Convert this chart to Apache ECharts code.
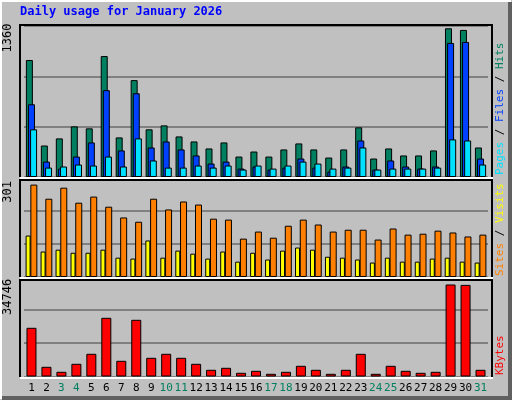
<!DOCTYPE html>
<html><head><meta charset="utf-8">
<script src="https://cdn.jsdelivr.net/npm/echarts@6/dist/echarts.min.js"></script>
<style>html,body{margin:0;padding:0;background:#c0c0c0}#c{width:512px;height:400px}</style>
</head><body><div id="c"></div>
<script>
const days = Array.from({length:31},(_,i)=>String(i+1));
const weekend = ['3','4','10','11','17','18','24','25','31'];
const hits  = [1070,288,353,463,445,1106,362,886,436,472,371,325,261,316,187,233,187,252,307,252,178,252,454,169,261,197,197,243,1360,1345,270];
const files = [665,141,77,187,316,794,243,766,270,325,252,197,123,141,77,96,68,86,169,86,50,96,334,68,151,96,77,96,1226,1235,169];
const pages = [436,86,96,114,105,187,96,353,151,86,86,105,86,105,68,105,77,105,141,123,77,86,270,68,77,77,77,86,344,334,114];
const visits= [301,255,291,242,262,229,194,180,255,220,246,236,190,187,125,148,128,167,187,171,148,154,154,122,158,138,141,151,145,132,138];
const sites = [135,83,89,79,79,89,63,60,119,63,86,76,60,83,50,79,57,86,96,89,66,63,57,47,63,50,50,60,63,50,47];
const kbytes= [18393,3663,1775,4796,8573,22170,5930,21414,7062,8573,7062,4796,2530,3286,1397,2153,1020,1775,4041,2530,1020,2530,8573,1020,4041,2153,1397,1775,34746,34600,2530];
const maxLabels = ['1360','301','34746'];
const title = 'Daily usage for January 2026';

const mono = 'DejaVu Sans Mono';
const grids = [
  {left:24, right:24, top:25, height:152},
  {left:24, right:24, top:180, height:97},
  {left:24, right:24, top:280, height:96.5}
];
const yMax = [1390, 316, 36445], yInt = [460, 108.5, 12580];
const xAxis = grids.map((g,i)=>({type:'category', gridIndex:i, data:days,
  axisLine:{show:false}, axisTick:{show:false},
  axisLabel:{show:i===2, interval:0, margin:6, fontFamily:mono, fontSize:11,
    color:(v)=>weekend.includes(v)?'#008060':'#000'}}));
const yAxis = grids.map((g,i)=>({type:'value', gridIndex:i, min:0, max:yMax[i], interval:yInt[i],
  axisLabel:{show:false}, axisLine:{show:false}, axisTick:{show:false},
  splitLine:{show:true, lineStyle:{color:'#808080', width:2}}}));
const bs = (name,data,color,gi,w,extra)=>Object.assign({type:'bar', name, data, xAxisIndex:gi, yAxisIndex:gi,
  barWidth:w, itemStyle:{color, borderColor:'#000', borderWidth:1}, animation:false, silent:true}, extra||{});
const series = [
  bs('Hits',hits,'#008060',0,7,{barGap:'-70%'}),
  bs('Files',files,'#0040ff',0,7,{barGap:'-70%'}),
  bs('Pages',pages,'#00e0ff',0,7,{barGap:'-70%'}),
  bs('Sites',sites,'#ffff00',1,5,{barGap:'-5%'}),
  bs('Visits',visits,'#ff8000',1,7,{barGap:'-5%'}),
  bs('KBytes',kbytes,'#ff0000',2,10)
];
const frames = [[25,177],[180,277],[280,377]];
const graphic = [
  {type:'rect', shape:{x:0,y:0,width:512,height:400}, style:{fill:'#c0c0c0'}, z:-10},
  {type:'polyline', shape:{points:[[1,399],[1,1],[511,1]]}, style:{stroke:'#fff', lineWidth:2, fill:null}, z:-5},
  {type:'polyline', shape:{points:[[2,398],[510,398],[510,2]]}, style:{stroke:'#606060', lineWidth:4, fill:null}, z:-5},
  {type:'text', left:20, top:6, style:{text:title, fill:'#0000ff', font:'bold 12px '+mono}}
];
frames.forEach(([t,b])=>{
  graphic.push({type:'polyline', shape:{points:[[20,b],[20,t],[492,t],[492,b]]}, style:{stroke:'#000',lineWidth:2,fill:null}, z:5});
  graphic.push({type:'line', shape:{x1:20,y1:b+1,x2:493,y2:b+1}, style:{stroke:'#fff',lineWidth:2}, z:5});
});
const leftY = [38, 192, 297];
maxLabels.forEach((t,i)=>graphic.push({type:'text', x:8, y:leftY[i]+ (t.length*3.6), rotation:Math.PI/2,
  style:{text:t, fill:'#000', font:'12px '+mono, align:'left', verticalAlign:'middle'}}));
function rich(parts, yBottom){
  const styles={}; let s='';
  parts.forEach(([t,c],k)=>{styles['s'+k]={fill:c, font:'11px '+mono}; s+='{s'+k+'|'+t+'}';});
  return {type:'text', x:500, y:yBottom, rotation:Math.PI/2,
    style:{text:s, rich:styles, align:'left', verticalAlign:'middle', font:'11px '+mono}};
}
graphic.push(rich([['Pages','#00e0ff'],[' / ','#000'],['Files','#0040ff'],[' / ','#000'],['Hits','#008060']],175));
graphic.push(rich([['Sites','#ff8000'],[' / ','#000'],['Visits','#ffff00']],276));
graphic.push(rich([['KBytes','#ff0000']],375));

const chart = echarts.init(document.getElementById('c'));
chart.setOption({backgroundColor:'#c0c0c0', animation:false, grid:grids, xAxis, yAxis, series, graphic});
</script></body></html>
